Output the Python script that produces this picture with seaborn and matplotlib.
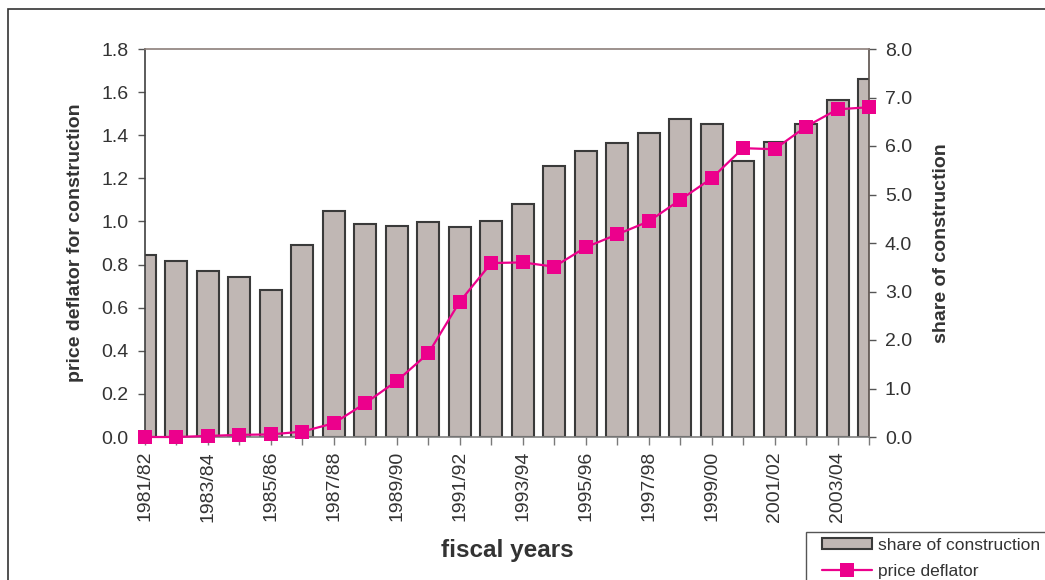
import numpy as np
import pandas as pd
import matplotlib
matplotlib.use("Agg")
import matplotlib.pyplot as plt
from matplotlib.patches import Rectangle
from matplotlib.ticker import FormatStrFormatter
import seaborn as sns

years = ["1981/82", "1982/83", "1983/84", "1984/85", "1985/86", "1986/87",
         "1987/88", "1988/89", "1989/90", "1990/91", "1991/92", "1992/93",
         "1993/94", "1994/95", "1995/96", "1996/97", "1997/98", "1998/99",
         "1999/00", "2000/01", "2001/02", "2002/03", "2003/04", "2004/05"]
share = [3.75, 3.63, 3.42, 3.30, 3.03, 3.95, 4.67, 4.39, 4.36, 4.43, 4.32, 4.45,
         4.80, 5.58, 5.90, 6.06, 6.26, 6.56, 6.45, 5.69, 6.08, 6.45, 6.95, 7.38]
deflator = [0.0, 0.0, 0.005, 0.01, 0.012, 0.025, 0.064, 0.157, 0.26, 0.388, 0.628, 0.807,
            0.81, 0.79, 0.88, 0.94, 1.00, 1.10, 1.20, 1.34, 1.335, 1.44, 1.52, 1.53]
left_ticks = [0.0, 0.2, 0.4, 0.6, 0.8, 1.0, 1.2, 1.4, 1.6, 1.8]
right_ticks = [0.0, 1.0, 2.0, 3.0, 4.0, 5.0, 6.0, 7.0, 8.0]

df = pd.DataFrame({"year": years, "share": share, "deflator": deflator,
                   "pos": np.arange(len(years))})

sns.set_theme(style="ticks")
plt.rcParams["font.family"] = ["Liberation Sans", "DejaVu Sans"]

TXT = "#333333"
BAR = "#C0B7B4"
EDGE = "#3a3a3a"
PINK = "#EC008C"

W, H = 1045, 580
fig = plt.figure(figsize=(W / 100, H / 100), dpi=100)
ax = fig.add_axes([145 / W, 1 - 437 / H, 724 / W, 388 / H])
ax2 = ax.twinx()

sns.barplot(data=df, x="year", y="share", order=years, ax=ax, color=BAR,
            saturation=1, width=0.7, edgecolor=EDGE, linewidth=1.5,
            errorbar=None, zorder=2)
sns.lineplot(data=df, x="pos", y="deflator", ax=ax2, color=PINK, marker="s",
             markersize=10.5, markeredgewidth=0, linewidth=1.6, clip_on=False,
             zorder=5)

n = len(years)
ax.set_xlim(0, n - 1)
ax.set_xticks(range(n))
ax.set_xticklabels([y if i % 2 == 0 else "" for i, y in enumerate(years)],
                   rotation=90)
ax.tick_params(axis="x", bottom=True, length=6, width=1, pad=4,
               color="#7a7a7a", labelsize=14, labelcolor=TXT)

# right axis: share of construction (bars)
ax.yaxis.tick_right()
ax.yaxis.set_label_position("right")
ax.set_ylim(0, 8)
ax.set_yticks(right_ticks)
ax.yaxis.set_major_formatter(FormatStrFormatter("%.1f"))
ax.tick_params(axis="y", right=True, left=False, length=5, width=1, pad=6.5,
               color="#555555", labelsize=14, labelcolor=TXT)
ax.set_ylabel("share of construction", fontsize=14, fontweight="bold", color=TXT)
ax.yaxis.set_label_coords((933 - 145) / 724, 0.5)

# left axis: price deflator (line)
ax2.yaxis.tick_left()
ax2.yaxis.set_label_position("left")
ax2.set_ylim(0, 1.8)
ax2.set_yticks(left_ticks)
ax2.yaxis.set_major_formatter(FormatStrFormatter("%.1f"))
ax2.tick_params(axis="y", left=True, right=False, length=5, width=1, pad=7,
                color="#555555", labelsize=14, labelcolor=TXT)
ax2.set_ylabel("price deflator for construction", fontsize=14,
               fontweight="bold", color=TXT)
ax2.yaxis.set_label_coords((84 - 145) / 724, 0.5)

ax.set_xlabel("fiscal years", fontsize=17.5, fontweight="bold", color=TXT)
ax.xaxis.set_label_coords(0.5, -0.263)

for s in ax.spines.values():
    s.set_visible(False)
ax2.spines["left"].set_color("#404040")
ax2.spines["right"].set_color("#5a504c")
ax2.spines["top"].set_color("#8c7f7a")
ax2.spines["bottom"].set_color("#808080")
for s in ax2.spines.values():
    s.set_linewidth(1.2)

# outer chart frame
fig.add_artist(Rectangle((8 / W, -0.1), 1.2, 1 - 9 / H + 0.1,
                         transform=fig.transFigure, fill=False,
                         edgecolor="#333333", linewidth=1.2))
# legend frame
fig.add_artist(Rectangle((806 / W, -0.1), 0.5, 1 - 532 / H + 0.1,
                         transform=fig.transFigure, fill=False,
                         edgecolor="#555555", linewidth=1.0))

leg = fig.legend([ax.containers[0], ax2.lines[0]],
                 ["share of construction", "price deflator"],
                 loc="upper left", bbox_to_anchor=(822 / W, 1 - 538 / H),
                 frameon=False, borderpad=0, borderaxespad=0, fontsize=12.5,
                 handlelength=2.9, handleheight=0.6, handletextpad=0.3,
                 labelspacing=0.62, labelcolor=TXT)

fig.savefig("out.png", dpi=100)
